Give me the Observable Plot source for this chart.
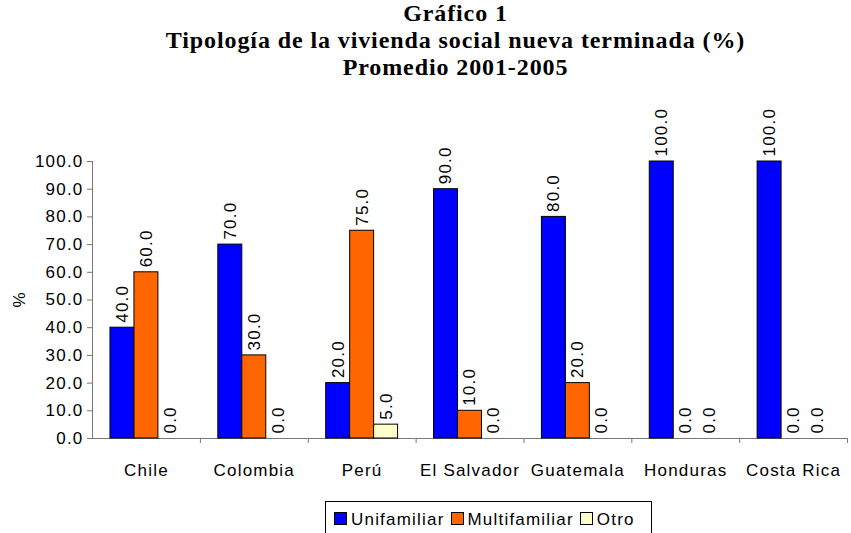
<!DOCTYPE html>
<html>
<head>
<meta charset="utf-8">
<script src="https://cdn.jsdelivr.net/npm/d3@7"></script>
<script src="https://cdn.jsdelivr.net/npm/@observablehq/plot@0.6"></script>
<style>
  body { margin: 0; background: #fff; }
  #wrap { width: 851px; position: relative; }
  #title { font-family: "Liberation Serif", "Times New Roman", serif; font-weight: bold; font-size: 24px; letter-spacing: 0.9px; text-align: center; padding-left: 60px; padding-top: 0px; height: 82px; box-sizing: border-box; white-space: nowrap; }
  #title div { height: 27px; line-height: 27px; }
  #chart svg { display: block; }
  #chart svg text { fill: #000; }
  #ylab { position: absolute; left: 8px; top: 288px; width: 24px; height: 24px; line-height: 24px; text-align: center; transform: rotate(-90deg); font-family: "Liberation Sans", Arial, sans-serif; font-size: 17px; }
  #legend { margin-left: 325px; margin-top: 3px; width: 327px; height: 32px; border: 1px solid #000; border-bottom: none; box-sizing: border-box; font-family: "Liberation Sans", Arial, sans-serif; font-size: 17px; letter-spacing: 1.2px; padding: 8px 0 0 8px; white-space: nowrap; line-height: 20px; }
  #legend span.sw { display: inline-block; width: 11px; height: 11px; border: 1px solid #000; margin-right: 4px; vertical-align: 0px; }
  #legend span.it { margin-right: 6px; }
</style>
</head>
<body>
<div id="wrap">
  <div id="title"><div>Gráfico 1</div><div>Tipología de la vivienda social nueva terminada (%)</div><div>Promedio 2001-2005</div></div>
  <div id="chart"></div>
  <div id="ylab">%</div>
  <div id="legend"></div>
</div>
<script>
const countries = ["Chile", "Colombia", "Perú", "El Salvador", "Guatemala", "Honduras", "Costa Rica"];
const series = ["Unifamiliar", "Multifamiliar", "Otro"];
const colors = ["#0000FF", "#FF6600", "#FFFFCC"];
const unifamiliar = [40, 70, 20, 90, 80, 100, 100];
const multifamiliar = [60, 30, 75, 10, 20, 0, 0];
const otro = [0, 0, 5, 0, 0, 0, 0];
const yTicks = [0, 10, 20, 30, 40, 50, 60, 70, 80, 90, 100];

const values = [unifamiliar, multifamiliar, otro];
const data = [];
countries.forEach((c, i) => series.forEach((s, k) => data.push({country: c, series: s, value: values[k][i]})));

const chart = Plot.plot({
  width: 851,
  height: 416,
  marginLeft: 92,
  marginRight: 4,
  marginTop: 79,
  marginBottom: 60,
  style: {fontFamily: "'Liberation Sans', Arial, sans-serif", fontSize: "17px", letterSpacing: "1.2px", color: "#777", background: "#fff"},
  facet: {data, x: "country", marginBottom: 60},
  fx: {domain: countries, paddingInner: 0, paddingOuter: 0, round: false, label: null, tickSize: 0, tickPadding: 25},
  x: {domain: series, axis: null, paddingInner: 0, paddingOuter: 0.75, round: false},
  y: {domain: [0, 100], ticks: yTicks, tickFormat: d => d.toFixed(1), label: null, line: true, tickSize: 5, tickPadding: 4},
  color: {domain: series, range: colors},
  marks: [
    Plot.ruleY([0], {stroke: "#777"}),
    Plot.ruleX([series[2]], {x: d => d, y1: 0, y2: -1.8, dx: 30, stroke: "#777"}),
    Plot.barY(data, {x: "series", y: "value", fill: "series", stroke: "#000", strokeWidth: 1, filter: d => d.value > 0}),
    Plot.text(data, {x: "series", y: "value", text: d => d.value.toFixed(1), rotate: -90, textAnchor: "start", dy: -5, fill: "#000"})
  ]
});
document.getElementById("chart").appendChild(chart);

const legendBox = document.getElementById("legend");
series.forEach((s, k) => {
  const it = document.createElement("span");
  it.className = "it";
  it.innerHTML = `<span class="sw" style="background:${colors[k]}"></span>${s}`;
  legendBox.appendChild(it);
});
</script>
</body>
</html>
